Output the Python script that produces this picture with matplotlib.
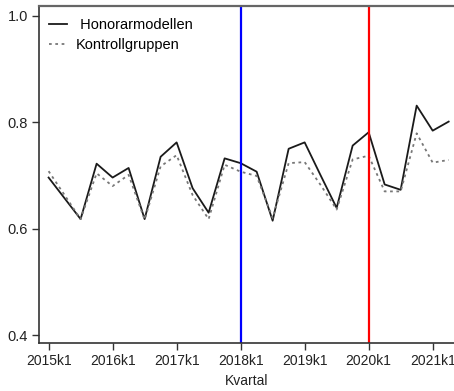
import matplotlib
matplotlib.use("Agg")
import matplotlib.pyplot as plt

plt.rcParams['font.family'] = ['Liberation Sans', 'DejaVu Sans']

# Quarterly series, 2015k1 .. 2021k2
quarters = [f"{y}k{q}" for y in range(2015, 2022) for q in range(1, 5)][:26]
honorar = [0.696, 0.657, 0.618, 0.722, 0.696, 0.714, 0.618, 0.735, 0.762, 0.676,
           0.630, 0.732, 0.723, 0.707, 0.615, 0.750, 0.762, 0.700, 0.639, 0.756,
           0.781, 0.683, 0.673, 0.831, 0.784, 0.801]
kontroll = [0.708, 0.663, 0.618, 0.704, 0.680, 0.701, 0.617, 0.717, 0.738, 0.663,
            0.618, 0.720, 0.707, 0.699, 0.620, 0.723, 0.725, 0.682, 0.636, 0.730,
            0.737, 0.670, 0.670, 0.779, 0.724, 0.729]
tick_labels = ["2015k1", "2016k1", "2017k1", "2018k1", "2019k1", "2020k1", "2021k1"]
y_ticks = [0.4, 0.6, 0.8, 1.0]
blue_mark = "2018k1"
red_mark = "2020k1"

x = list(range(len(quarters)))

fig = plt.figure(figsize=(4.54, 3.91), dpi=100)
ax = fig.add_axes([0.0859, 0.1228, 0.914, 0.8619])

ax.plot(x, honorar, color="#1a1a1a", lw=1.3, label=" Honorarmodellen")
ax.plot(x, kontroll, color="#777777", lw=1.3, ls=(0, (1.5, 2)), label="Kontrollgruppen")
ax.axvline(quarters.index(blue_mark), color="#0000ff", lw=1.6)
ax.axvline(quarters.index(red_mark), color="#ff0000", lw=1.6)

ax.set_xlim(-0.6, 25.33)
ax.set_ylim(0.3855, 1.018)
ax.set_xticks([quarters.index(t) for t in tick_labels])
ax.set_xticklabels(tick_labels, fontsize=10, color="#222222")
ax.set_yticks(y_ticks)
ax.set_yticklabels([f"{v:.1f}" for v in y_ticks], fontsize=10.5, color="#222222")
ax.set_xlabel("Kvartal", fontsize=10, color="#222222", labelpad=4.5)

for s in ["left", "bottom", "top"]:
    ax.spines[s].set_color("#333333")
    ax.spines[s].set_linewidth(1.2)
ax.spines["top"].set_color("#666666")
ax.spines["top"].set_linewidth(1.6)
ax.spines["right"].set_visible(False)
ax.tick_params(axis="both", direction="out", length=5, width=1, color="#333333", pad=3)

leg = ax.legend(loc="upper left", frameon=False, fontsize=10.5, handlelength=1.25,
                handletextpad=0.6, borderaxespad=0.3, labelspacing=0.4,
                bbox_to_anchor=(0.0, 0.995))

fig.savefig("out.png", dpi=100)
